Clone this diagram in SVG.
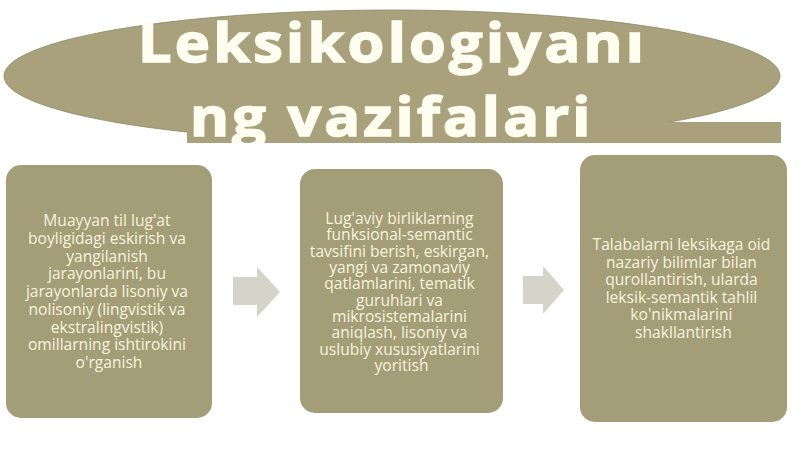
<svg xmlns="http://www.w3.org/2000/svg" width="800" height="449" viewBox="0 0 800 449">
  <style>
    .olive { fill: #a8a17c; }
    .box { fill: #a39d78; }
    .title { font-family: "Open Sans", "DejaVu Sans", sans-serif; font-weight: 700; font-size: 54px; fill: #fffdf0; stroke: #fffdf0; stroke-width: 1.6; }
    .label { font-family: "Open Sans", "DejaVu Sans", sans-serif; font-size: 15.6px; fill: #f8f4dc; text-anchor: middle; }
    .arrow { fill: #d4d4ca; }
  </style>
  <defs>
    <clipPath id="titleClip">
      <rect x="0" y="0" width="800" height="143"/>
    </clipPath>
  </defs>
  <rect width="800" height="449" fill="#ffffff"/>
  <g id="title">
    <ellipse class="olive" cx="392" cy="76" rx="388" ry="66" stroke="#8e8866" stroke-width="0.8"/>
    <rect class="olive" x="187" y="122" width="594" height="21"/>
    <g clip-path="url(#titleClip)">
      <g transform="translate(138,62) scale(1.1,1)">
        <text class="title" x="0" y="0" textLength="460" lengthAdjust="spacing">Leksikologiyanı</text>
      </g>
      <g transform="translate(190,136) scale(1.1,1)">
        <text class="title" x="0" y="0" textLength="364" lengthAdjust="spacing">ng vazifalari</text>
      </g>
    </g>
  </g>
  <g id="node1">
    <rect class="box" x="6" y="165" width="206" height="253" rx="15"/>
    <text class="label">
      <tspan x="109" y="226">Muayyan til lug'at</tspan>
      <tspan x="109" y="243.75">boyligidagi eskirish va</tspan>
      <tspan x="109" y="261.5">yangilanish</tspan>
      <tspan x="109" y="279.25">jarayonlarini, bu</tspan>
      <tspan x="109" y="297">jarayonlarda lisoniy va</tspan>
      <tspan x="109" y="314.75">nolisoniy (lingvistik va</tspan>
      <tspan x="109" y="332.5">ekstralingvistik)</tspan>
      <tspan x="109" y="350.25">omillarning ishtirokini</tspan>
      <tspan x="109" y="368">o'rganish</tspan>
    </text>
  </g>
  <g id="node2">
    <rect class="box" x="300" y="169" width="203" height="244" rx="15"/>
    <text class="label">
      <tspan x="401.5" y="224">Lug'aviy birliklarning</tspan>
      <tspan x="401.5" y="240.3">funksional-semantic</tspan>
      <tspan x="401.5" y="256.7">tavsifini berish, eskirgan,</tspan>
      <tspan x="401.5" y="273">yangi va zamonaviy</tspan>
      <tspan x="401.5" y="289.3">qatlamlarini, tematik</tspan>
      <tspan x="401.5" y="305.7">guruhlari va</tspan>
      <tspan x="401.5" y="322">mikrosistemalarini</tspan>
      <tspan x="401.5" y="338.3">aniqlash, lisoniy va</tspan>
      <tspan x="401.5" y="354.7">uslubiy xususiyatlarini</tspan>
      <tspan x="401.5" y="371">yoritish</tspan>
    </text>
  </g>
  <g id="node3">
    <rect class="box" x="580" y="155" width="207" height="267" rx="15"/>
    <text class="label">
      <tspan x="683.5" y="250">Talabalarni leksikaga oid</tspan>
      <tspan x="683.5" y="267.6">nazariy bilimlar bilan</tspan>
      <tspan x="683.5" y="285.2">qurollantirish, ularda</tspan>
      <tspan x="683.5" y="302.8">leksik-semantik tahlil</tspan>
      <tspan x="683.5" y="320.4">ko'nikmalarini</tspan>
      <tspan x="683.5" y="338">shakllantirish</tspan>
    </text>
  </g>
  <g id="connectors">
    <polygon class="arrow" points="233,277 257,277 257,267 280,292 257,317 257,305 233,305"/>
    <polygon class="arrow" points="523,276 543,276 543,266 564,290 543,314 543,304 523,304"/>
  </g>
</svg>
